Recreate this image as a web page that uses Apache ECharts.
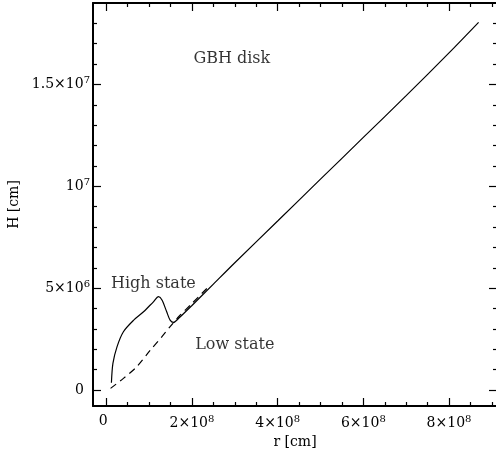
<!DOCTYPE html>
<html>
<head>
<meta charset="utf-8">
<script src="https://cdn.jsdelivr.net/npm/echarts@6/dist/echarts.min.js"></script>
<style>
  html, body { margin: 0; padding: 0; background: #fff; }
  #main { width: 496px; height: 452px; }
</style>
</head>
<body>
<div id="main"></div>
<script>
// data: r in cm, H in cm
var highR = [0.12e8, 0.155e8, 0.25e8, 0.40e8, 0.64e8, 0.87e8, 1.10e8, 1.22e8, 1.30e8, 1.41e8, 1.49e8, 1.57e8, 1.69e8, 2.0e8, 2.5e8, 3.0e8, 4.0e8, 5.0e8, 6.0e8, 7.0e8, 8.0e8, 8.69e8];
var highH = [0.36e6, 1.31e6, 2.12e6, 2.86e6, 3.43e6, 3.84e6, 4.33e6, 4.58e6, 4.42e6, 3.84e6, 3.43e6, 3.32e6, 3.52e6, 4.15e6, 5.2e6, 6.25e6, 8.3e6, 10.35e6, 12.4e6, 14.45e6, 16.55e6, 18.05e6];
var lowR = [0.10e8, 0.40e8, 0.71e8, 1.03e8, 1.30e8, 1.49e8, 1.70e8, 2.0e8, 2.4e8];
var lowH = [0.08e6, 0.57e6, 1.14e6, 1.96e6, 2.62e6, 3.11e6, 3.62e6, 4.25e6, 5.1e6];

// labels written in the plot
var noteText = ['GBH disk', 'High state', 'Low state'];
var noteR = [2.93e8, 1.10e8, 3.0e8];
var noteH = [16.24e6, 5.2e6, 2.21e6];

// axis ticks
var xTicks = [0, 2e8, 4e8, 6e8, 8e8];
var xTickLabels = ['0', '2×10^8', '4×10^8', '6×10^8', '8×10^8'];
var yTicks = [0, 5e6, 1e7, 1.5e7];
var yTickLabels = ['0', '5×10^6', '10^7', '1.5×10^7'];

var xMin = -0.31e8, xMax = 9.12e8;
var yMin = -0.785e6, yMax = 1.9e7;

var FONT = 'DejaVu Serif';

function minorList(from, to, step, majors) {
  var out = [];
  for (var v = from; v <= to + step / 100; v += step) {
    var val = Math.round(v / step) * step;
    if (majors.indexOf(val) < 0) out.push(val);
  }
  return out;
}
var xMinor = minorList(0, 9e8, 0.5e8, xTicks);
var yMinor = minorList(0, 1.8e7, 1e6, yTicks);

function richLabel(ticks, labels) {
  return function (v) {
    var i = ticks.indexOf(v);
    if (i < 0) return '';
    var parts = labels[i].split('^');
    if (parts.length == 1) return '{z|' + parts[0] + '}';
    return '{m|' + parts[0] + '}{s|' + parts[1] + '}';
  };
}
var rich = {
  m: { fontFamily: FONT, fontSize: 14, color: '#000' },
  z: { fontFamily: FONT, fontSize: 14, color: '#000' },
  s: { fontFamily: FONT, fontSize: 10, color: '#000', padding: [0, 0, 8, 0] }
};

function pairs(a, b) {
  var out = [];
  for (var i = 0; i < a.length; i++) out.push([a[i], b[i]]);
  return out;
}

function axis(kind, pos, gridIndex, ticks, len, withLine, labels) {
  var a = {
    type: 'value',
    gridIndex: gridIndex,
    position: pos,
    min: kind == 'x' ? xMin : yMin,
    max: kind == 'x' ? xMax : yMax,
    splitLine: { show: false },
    axisLine: { show: withLine, onZero: false, lineStyle: { color: '#000', width: 2 } },
    axisTick: { show: true, inside: true, length: len, customValues: ticks, lineStyle: { color: '#000', width: 1.2 } },
    axisLabel: { show: false }
  };
  if (labels) {
    a.axisLabel = {
      show: true,
      customValues: ticks,
      margin: kind == 'x' ? 8 : 3,
      formatter: labels,
      rich: rich
    };
  }
  return a;
}

var chart = echarts.init(document.getElementById('main'), null, { renderer: 'canvas' });

var xAxes = [
  axis('x', 'bottom', 0, xTicks, 8, true, richLabel(xTicks, xTickLabels)),
  axis('x', 'top', 0, xTicks, 8, true, null),
  axis('x', 'bottom', 1, xMinor, 4, false, null),
  axis('x', 'top', 1, xMinor, 4, false, null)
];
xAxes[0].name = 'r [cm]';
xAxes[0].nameLocation = 'middle';
xAxes[0].nameGap = 28;
xAxes[0].nameTextStyle = { fontFamily: FONT, fontSize: 14, color: '#000' };

var yAxes = [
  axis('y', 'left', 0, yTicks, 8, true, richLabel(yTicks, yTickLabels)),
  axis('y', 'right', 0, yTicks, 8, true, null),
  axis('y', 'left', 1, yMinor, 4, false, null),
  axis('y', 'right', 1, yMinor, 4, false, null)
];
yAxes[0].name = 'H [cm]';
yAxes[0].nameLocation = 'middle';
yAxes[0].nameGap = 72;
yAxes[0].nameTextStyle = { fontFamily: FONT, fontSize: 14, color: '#000' };
rich.z.padding = [0, 6, 0, 0];

var option = {
  backgroundColor: '#ffffff',
  animation: false,
  grid: [
    { left: 93, top: 3, width: 404, height: 403, outerBoundsMode: 'none', containLabel: false },
    { left: 93, top: 3, width: 404, height: 403, outerBoundsMode: 'none', containLabel: false }
  ],
  xAxis: xAxes,
  yAxis: yAxes,
  series: [{
    name: 'High state',
    type: 'line',
    xAxisIndex: 0,
    yAxisIndex: 0,
    data: pairs(highR, highH),
    showSymbol: false,
    smooth: 0.3,
    lineStyle: { color: '#000', width: 1.2 }
  }, {
    name: 'Low state',
    type: 'line',
    xAxisIndex: 0,
    yAxisIndex: 0,
    data: pairs(lowR, lowH),
    showSymbol: false,
    smooth: 0.3,
    lineStyle: { color: '#000', width: 1.2, type: [7, 5] }
  }, {
    name: 'notes',
    type: 'scatter',
    xAxisIndex: 0,
    yAxisIndex: 0,
    symbolSize: 0,
    data: noteText.map(function (t, i) { return { value: [noteR[i], noteH[i]], name: t }; }),
    label: {
      show: true,
      position: 'inside',
      formatter: '{b}',
      fontFamily: FONT,
      fontSize: 16,
      color: '#000'
    }
  }]
};
chart.setOption(option);
</script>
</body>
</html>
